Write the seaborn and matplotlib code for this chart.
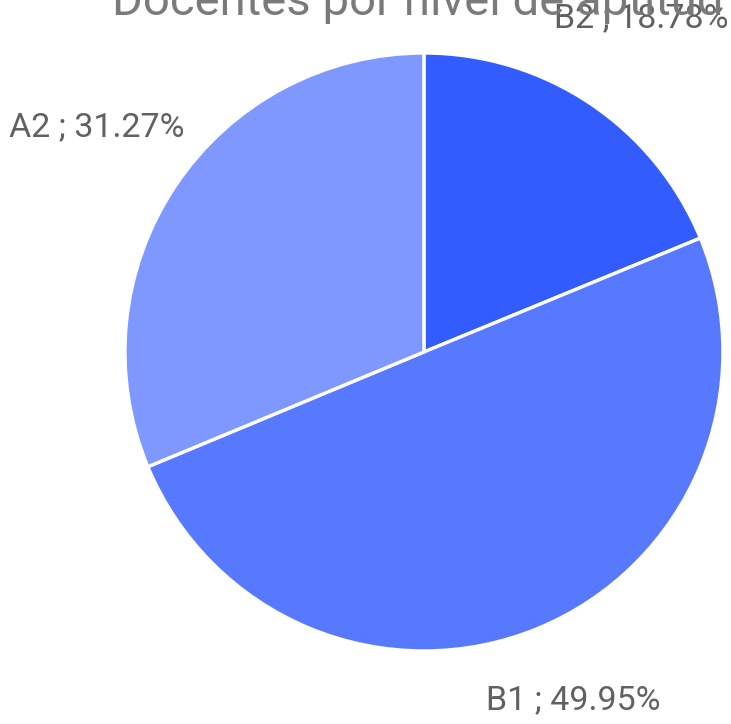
import matplotlib
matplotlib.use("Agg")
import matplotlib.pyplot as plt
import seaborn as sns

# data
niveles = ["B2", "B1", "A2"]
porcentajes = [18.78, 49.95, 31.27]
colores = ["#335CFF", "#5779FF", "#7F98FF"]
titulo = "Docentes por nivel de aptitud"

sns.set_theme(style="white")
plt.rcParams["font.family"] = ["Roboto", "DejaVu Sans"]

fig = plt.figure(figsize=(7.31, 7.24), dpi=100)
ax = fig.add_axes([0, 0, 1, 1])

labels = [f"{n} ; {p:.2f}%" for n, p in zip(niveles, porcentajes)]
wedges, texts = ax.pie(
    porcentajes, labels=labels, colors=colores, startangle=90, counterclock=False,
    radius=1.0, labeldistance=1.32,
    wedgeprops=dict(edgecolor="white", linewidth=2.4),
    textprops=dict(fontsize=24.5, color="#616161"),
)

# nudge labels to where the original places them (data units, radius = 1)
label_pos = [(0.726, 1.117), (0.498, -1.164), (-1.094, 0.753)]
for t, pos in zip(texts, label_pos):
    t.set_position(pos)
    t.set_ha("center")
    t.set_va("center")

ax.set_aspect("equal")
ax.set_xlim(-1.418, 1.027)
ax.set_ylim(-1.244, 1.177)
ax.axis("off")

fig.text(112 / 731, 1 - 15 / 724, titulo, ha="left", va="baseline",
         fontsize=34, color="#7a7a7a")

fig.savefig("out.png", dpi=100)
